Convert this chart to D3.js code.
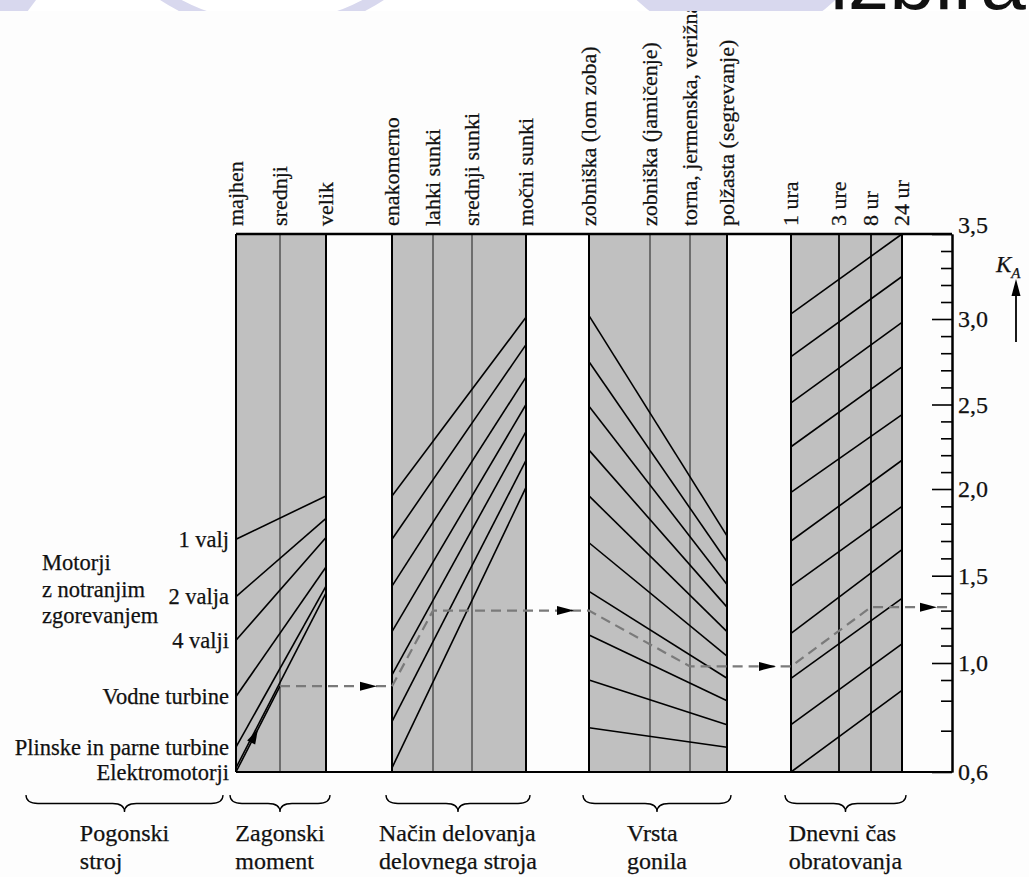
<!DOCTYPE html>
<html>
<head>
<meta charset="utf-8">
<script src="https://cdn.jsdelivr.net/npm/d3@7"></script>
<style>
  body { margin: 0; background: #fff; }
  text { font-family: "Liberation Serif", "Times New Roman", serif; fill: #111; stroke: #111; stroke-width: 0.25px; }
</style>
</head>
<body>
<div id="chart"></div>
<script>
// K_A skala (desna os)
var kaMajor = [3.5, 3.0, 2.5, 2.0, 1.5, 1.0, 0.6];
var kaLabels = ["3,5", "3,0", "2,5", "2,0", "1,5", "1,0", "0,6"];
var kaMinor = [0.7, 0.8, 0.9, 1.1, 1.2, 1.3, 1.4, 1.6, 1.7, 1.8, 1.9, 2.1, 2.2, 2.3, 2.4,
               2.6, 2.7, 2.8, 2.9, 3.1, 3.2, 3.3, 3.4];

// pogonski stroj -> zagonski moment
var pogonskiStroj = ["1 valj", "2 valja", "4 valji", "Vodne turbine", "Plinske in parne turbine", "Elektromotorji"];
var motorjiNaslov = ["Motorji", "z notranjim", "zgorevanjem"];
var zagonskiMoment = ["majhen", "srednji", "velik"];
var zagonLeft = [1.71, 1.38, 1.13, 0.82, 0.66, 0.61];
var zagonRight = [1.96, 1.83, 1.72, 1.55, 1.44, 1.40];

// nacin delovanja delovnega stroja
var nacinDelovanja = ["enakomerno", "lahki sunki", "srednji sunki", "močni sunki"];
var nacinLeft = [1.96, 1.71, 1.44, 1.18, 0.93, 0.73, 0.61];
var nacinRight = [3.01, 2.85, 2.66, 2.50, 2.34, 2.17, 2.01];

// vrsta gonila
var vrstaGonila = ["zobniška (lom zoba)", "zobniška (jamičenje)", "torna, jermenska, verižna", "polžasta (segrevanje)"];
var gonilaLeft = [3.02, 2.75, 2.49, 2.23, 1.96, 1.69, 1.41, 1.16, 0.90, 0.71];
var gonilaRight = [1.73, 1.58, 1.45, 1.32, 1.18, 1.04, 0.91, 0.80, 0.72, 0.66];

// dnevni cas obratovanja
var dnevniCas = ["1 ura", "3 ure", "8 ur", "24 ur"];
var casLeft = [3.03, 2.78, 2.51, 2.25, 1.98, 1.70, 1.44, 1.17, 0.91, 0.72, 0.60];
var casRight = [3.50, 3.25, 2.98, 2.72, 2.44, 2.17, 1.90, 1.65, 1.37, 1.11, 0.85];

// primer (crtkana pot)
var primerCols = ["majhen", "srednji", "enakomerno", "lahki sunki", "zobniška (lom zoba)",
                  "torna, jermenska, verižna", "1 ura", "8 ur", "K_A"];
var primerKa = [0.60, 0.87, 0.87, 1.30, 1.30, 0.98, 0.98, 1.32, 1.32];

var skupine = [["Pogonski", "stroj"], ["Zagonski", "moment"], ["Način delovanja", "delovnega stroja"],
               ["Vrsta", "gonila"], ["Dnevni čas", "obratovanja"]];

var W = 1029, H = 877;
var lav = "rgb(216,216,238)";

var svg = d3.select("#chart").append("svg").attr("width", W).attr("height", H);

// glava prosojnice (le spodnji rob je viden)
var head = svg.append("g");
head.append("rect").attr("width", W).attr("height", 12).attr("fill", "#fff");
head.append("path").attr("d", "M0,0L36,0L27,12L0,12Z").attr("fill", lav);
head.append("circle").attr("cx", 272).attr("cy", -170).attr("r", 198)
    .attr("fill", "none").attr("stroke", lav).attr("stroke-width", 11);
head.append("ellipse").attr("cx", 736).attr("cy", -100).attr("rx", 142).attr("ry", 140).attr("fill", lav);
head.append("text").attr("x", 830).attr("y", 9).text("izbira")
    .style("font-family", "'Liberation Sans', Arial, sans-serif").style("font-size", "82px")
    .style("fill", "#111").style("stroke", "none");

svg.append("clipPath").attr("id", "figClip").append("rect")
    .attr("x", 0).attr("y", 11).attr("width", W).attr("height", H - 11);

var fig = svg.append("g").attr("clip-path", "url(#figClip)");
fig.append("rect").attr("x", 0).attr("y", 11).attr("width", W).attr("height", H - 11).attr("fill", "#fdfdfd");

// skale
var columns = zagonskiMoment.concat(nacinDelovanja, vrstaGonila, dnevniCas, ["K_A"]);
var xCol = d3.scaleOrdinal().domain(columns)
    .range([236, 280, 326, 392, 433, 472, 526, 589, 650, 690, 727, 791, 839, 871, 902, 952]);
var yScale = d3.scaleLinear()
    .domain([0.6, 0.7, 0.8, 0.9, 1.0, 1.5, 2.0, 2.5, 3.0, 3.5])
    .range([772, 730.7, 700.7, 680, 663, 575.7, 489, 404.5, 319, 234]);

var yTop = yScale(3.5), yBot = yScale(0.6);

var panels = [
  { cols: zagonskiMoment, left: zagonLeft, right: zagonRight, inner: "#6e6e6e" },
  { cols: nacinDelovanja, left: nacinLeft, right: nacinRight, inner: "#6e6e6e" },
  { cols: vrstaGonila, left: gonilaLeft, right: gonilaRight, inner: "#6e6e6e" },
  { cols: dnevniCas, left: casLeft, right: casRight, inner: "#1a1a1a" }
];

panels.forEach(function (p) {
  var x0 = xCol(p.cols[0]), x1 = xCol(p.cols[p.cols.length - 1]);
  var g = fig.append("g");
  g.append("rect").attr("x", x0).attr("y", yTop).attr("width", x1 - x0).attr("height", yBot - yTop)
      .attr("fill", "#c0c0c0");
  g.selectAll("line.inner").data(p.cols.slice(1, -1)).enter().append("line")
      .attr("x1", function (d) { return xCol(d); }).attr("x2", function (d) { return xCol(d); })
      .attr("y1", yTop).attr("y2", yBot)
      .attr("stroke", p.inner).attr("stroke-width", 2);
  g.selectAll("line.diag").data(d3.zip(p.left, p.right)).enter().append("line")
      .attr("x1", x0).attr("x2", x1)
      .attr("y1", function (d) { return yScale(d[0]); })
      .attr("y2", function (d) { return yScale(d[1]); })
      .attr("stroke", "#000").attr("stroke-width", 1.6);
  g.selectAll("line.edge").data([p.cols[0], p.cols[p.cols.length - 1]]).enter().append("line")
      .attr("x1", function (d) { return xCol(d); }).attr("x2", function (d) { return xCol(d); })
      .attr("y1", yTop).attr("y2", yBot)
      .attr("stroke", "#000").attr("stroke-width", 2);
});

// zgornji in spodnji rob
fig.append("line").attr("x1", xCol("majhen")).attr("x2", xCol("K_A")).attr("y1", yTop).attr("y2", yTop)
    .attr("stroke", "#000").attr("stroke-width", 2.5);
fig.append("line").attr("x1", xCol("majhen")).attr("x2", xCol("K_A")).attr("y1", yBot).attr("y2", yBot)
    .attr("stroke", "#000").attr("stroke-width", 2);

// desna os K_A
var axMinor = fig.append("g").attr("transform", "translate(" + xCol("K_A") + ",0)")
    .call(d3.axisRight(yScale).tickValues(kaMinor).tickSizeInner(-11).tickSizeOuter(0).tickFormat(""));
var axMajor = fig.append("g").attr("transform", "translate(" + xCol("K_A") + ",0)")
    .call(d3.axisRight(yScale).tickValues(kaMajor).tickSizeInner(-20).tickSizeOuter(0).tickPadding(6)
      .tickFormat(function (d, i) { return kaLabels[i]; }));
[axMinor, axMajor].forEach(function (a) {
  a.select(".domain").attr("stroke", "#000").attr("stroke-width", 2);
  a.selectAll(".tick line").attr("stroke", "#000").attr("stroke-width", 1.6);
});
axMajor.selectAll(".tick text")
    .style("font-family", "'Liberation Serif', 'Times New Roman', serif").style("font-size", "24px").style("fill", "#111")
    .attr("dy", function (d) { return d === 3.5 ? "-0.05em" : "0.32em"; });

// K_A oznaka in puscica
var ka = fig.append("text").attr("x", 996).attr("y", 272).style("font-size", "23px").style("font-style", "italic");
ka.append("tspan").text("K");
ka.append("tspan").attr("dy", 6).style("font-size", "15px").text("A");
fig.append("line").attr("x1", 1016).attr("x2", 1016).attr("y1", 342).attr("y2", 292)
    .attr("stroke", "#000").attr("stroke-width", 1.8);
fig.append("path").attr("d", "M1016,279L1011.5,296L1020.5,296Z").attr("fill", "#000");

// primer: crtkana pot
var pts = primerCols.map(function (c, i) { return [xCol(c), yScale(primerKa[i])]; });
fig.append("line").attr("x1", pts[0][0]).attr("y1", pts[0][1]).attr("x2", pts[1][0]).attr("y2", pts[1][1])
    .attr("stroke", "#000").attr("stroke-width", 1.6);
fig.append("path").datum(pts.slice(1)).attr("d", d3.line())
    .attr("fill", "none").attr("stroke", "#7a7a7a").attr("stroke-width", 2.2).attr("stroke-dasharray", "10,6");

function arrowHead(tip, ang, len, half) {
  var c = Math.cos(ang), s = Math.sin(ang);
  var bx = tip[0] - len * c, by = tip[1] - len * s;
  return "M" + tip[0] + "," + tip[1] +
    "L" + (bx - half * s) + "," + (by + half * c) +
    "L" + (bx + half * s) + "," + (by - half * c) + "Z";
}
// puscica na polni crti
var mid = [(pts[0][0] + pts[1][0]) / 2, (pts[0][1] + pts[1][1]) / 2];
fig.append("path").attr("d", arrowHead(mid, Math.atan2(pts[1][1] - pts[0][1], pts[1][0] - pts[0][0]), 15, 4.5))
    .attr("fill", "#000");
// puscice na vodoravnih odsekih
[[1, 2], [3, 4], [5, 6], [7, 8]].forEach(function (s) {
  var b = pts[s[1]];
  var tip = [b[0] - 15, b[1]];
  fig.append("path").attr("d", arrowHead(tip, 0, 17, 4.5)).attr("fill", "#000");
});

// navpicne oznake stolpcev
fig.selectAll("text.col").data(columns.slice(0, -1)).enter().append("text")
    .attr("transform", function (d) { return "translate(" + xCol(d) + ",226) rotate(-90)"; })
    .attr("dy", "0.33em")
    .style("font-size", "22px")
    .text(function (d) { return d; });

// leve oznake
fig.selectAll("text.pog").data(pogonskiStroj).enter().append("text")
    .attr("x", xCol("majhen") - 7)
    .attr("y", function (d, i) { return yScale(zagonLeft[i]); })
    .attr("dy", function (d, i) { return i === pogonskiStroj.length - 1 ? "0.55em" : "0.33em"; })
    .attr("text-anchor", "end")
    .style("font-size", "22.5px")
    .text(function (d) { return d; });
fig.selectAll("text.mot").data(motorjiNaslov).enter().append("text")
    .attr("x", 42)
    .attr("y", function (d, i) { return yScale(zagonLeft[1]) - 34 + i * 26.5; })
    .attr("dy", "0.33em")
    .style("font-size", "22.5px")
    .text(function (d) { return d; });

// zaviti oklepaji in skupine
var spans = [[26, 223]].concat(panels.map(function (p) {
  return [xCol(p.cols[0]) - 6, xCol(p.cols[p.cols.length - 1]) + 4];
}));
function brace(x0, x1, y0, h) {
  var xm = (x0 + x1) / 2, q = 12, ym = y0 + h / 2;
  return "M" + x0 + "," + y0 + "Q" + x0 + "," + ym + " " + (x0 + q) + "," + ym +
    "L" + (xm - q) + "," + ym + "Q" + xm + "," + ym + " " + xm + "," + (y0 + h) +
    "Q" + xm + "," + ym + " " + (xm + q) + "," + ym +
    "L" + (x1 - q) + "," + ym + "Q" + x1 + "," + ym + " " + x1 + "," + y0;
}
skupine.forEach(function (lines, i) {
  var s = spans[i];
  fig.append("path").attr("d", brace(s[0], s[1], 795, 17))
      .attr("fill", "none").attr("stroke", "#000").attr("stroke-width", 1.3);
  var t = fig.append("text").style("font-size", "24px");
  lines.forEach(function (l, j) {
    t.append("tspan").attr("y", 841 + j * 28).text(l);
  });
  var wmax = 0;
  t.selectAll("tspan").each(function () { wmax = Math.max(wmax, this.getComputedTextLength()); });
  t.selectAll("tspan").attr("x", (s[0] + s[1]) / 2 - wmax / 2);
});
</script>
</body>
</html>
